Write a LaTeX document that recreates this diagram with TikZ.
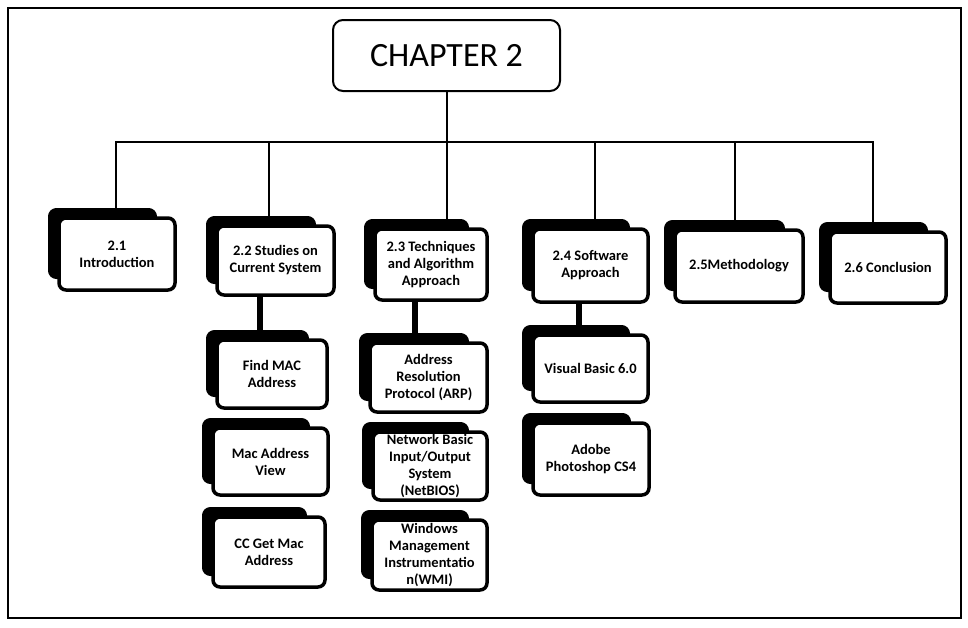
\documentclass[tikz,border=0pt]{standalone}
\usepackage{fontspec}
\setmainfont{Carlito}
\newcommand{\mybox}[6]{%
  \node[backbox, minimum width={#4-#2-8}, minimum height={#5-#3-2}, anchor=north west] (#1b) at (#2-11,#3-10) {};
  \node[frontbox, minimum width={#4-#2}, minimum height={#5-#3}] (#1) at ({(#2+#4)/2},{(#3+#5)/2}) {#6};
}
\begin{document}
\begin{tikzpicture}[x=1pt,y=-1pt,
  backbox/.style={draw=black, fill=black, rounded corners=8pt, line width=1pt, inner sep=0pt},
  frontbox/.style={draw=black, fill=white, rounded corners=7pt, line width=3.5pt, inner sep=0pt,
    align=center, font=\bfseries\fontsize{14.5}{17}\selectfont},
  thin/.style={line width=2pt},
  bar/.style={line width=6pt}]
\useasboundingbox (0,0) rectangle (968,627);
\draw[line width=1.5pt] (8,8) rectangle (961,618);
\node[draw, line width=2pt, rounded corners=10pt, minimum width=227, minimum height=71,
  font=\fontsize{34}{38}\selectfont] (ch) at (446.5,55.5) {CHAPTER 2};

\mybox{m1}{59}{218}{175}{290}{2.1\\Introduction}
\mybox{m2}{217}{226}{334}{295}{2.2 Studies on\\Current System}
\mybox{m3}{375}{229}{487}{300}{2.3 Techniques\\and Algorithm\\Approach}
\mybox{m4}{533}{229}{648}{302}{2.4 Software\\Approach}
\mybox{m5}{675}{230}{803}{302}{2.5Methodology}
\mybox{m6}{830}{232}{946}{303}{2.6 Conclusion}

\mybox{fm}{217}{340}{327}{408}{Find MAC\\Address}
\mybox{mv}{213}{428}{328}{495}{Mac Address\\View}
\mybox{cc}{213}{517}{325}{587}{CC Get Mac\\Address}
\mybox{arp}{370}{343}{487}{412}{Address\\Resolution\\Protocol (ARP)}
\mybox{nb}{373}{432}{487}{500}{Network Basic\\Input/Output\\System\\(NetBIOS)}
\mybox{wmi}{372}{520}{487}{590}{Windows\\Management\\Instrumentatio\\n(WMI)}
\mybox{vb}{533}{335}{648}{402}{Visual Basic 6.0}
\mybox{ad}{533}{423}{649}{495}{Adobe\\Photoshop CS4}

\coordinate (h1) at (116,142);
\coordinate (h2) at (269,142);
\coordinate (h3) at (447,142);
\coordinate (h4) at (595,142);
\coordinate (h5) at (735,142);
\coordinate (h6) at (873,142);
\draw[thin] (ch.south) -- (ch.south |- h3);
\draw[line width=2.5pt] ([xshift=-1pt]h1) -- ([xshift=1pt]h6);
\draw[thin] (h1) -- (h1 |- m1b.north);
\draw[thin] (h2) -- (h2 |- m2b.north);
\draw[thin] (h3) -- (h3 |- m3b.north);
\draw[thin] (h4) -- (h4 |- m4b.north);
\draw[thin] (h5) -- (h5 |- m5b.north);
\draw[thin] (h6) -- (h6 |- m6b.north);

\draw[bar] ([xshift=-16pt]m2.south) -- ([xshift=-16pt]m2.south |- fmb.north);
\draw[bar] ([xshift=-16pt]m3.south) -- ([xshift=-16pt]m3.south |- arpb.north);
\draw[bar] ([xshift=-12pt]m4.south) -- ([xshift=-12pt]m4.south |- vbb.north);
\end{tikzpicture}
\end{document}
